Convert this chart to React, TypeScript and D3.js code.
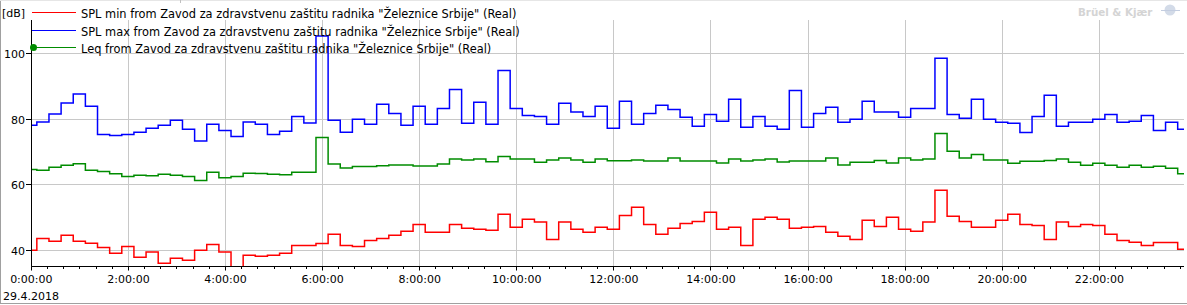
import React from "react";
import * as d3 from "d3";

// ---- data (15-minute intervals, 29.4.2018) ----
const dateLabel = "29.4.2018";
const unitLabel = "[dB]";
const seriesNames = [
  'SPL min from Zavod za zdravstvenu zaštitu radnika "Železnice Srbije" (Real)',
  'SPL max from Zavod za zdravstvenu zaštitu radnika "Železnice Srbije" (Real)',
  'Leq from Zavod za zdravstvenu zaštitu radnika "Železnice Srbije" (Real)',
];
const yTickValues = [40, 60, 80, 100];
const firstStepMinute = 6.8; // first interval boundary after 0:00:00
const stepMinutes = 15;
const endMinute = 23 * 60 + 44.6;

const splMin = [
  40.0, 43.6, 42.8, 44.6, 42.8, 42.2, 40.9, 39.1, 41.2, 37.9, 39.5, 36.1, 37.6, 37.0, 40.0, 41.8, 39.5, 34.0, 38.5, 38.2, 38.5, 39.1, 41.5,
  41.5, 42.1, 44.9, 41.5, 41.2, 43.0, 43.6, 44.6, 45.8, 47.9, 45.5, 45.5, 47.9, 46.7, 46.4, 46.1, 51.0, 47.0, 49.5, 48.6, 43.3, 48.6, 46.4, 45.5, 47.0,
  46.4, 50.6, 53.1, 47.9, 44.9, 46.7, 48.2, 48.8, 51.6, 46.4, 47.0, 41.5, 49.5, 50.1, 49.5, 46.7, 47.0, 47.3, 45.5, 44.3, 43.3, 49.2, 47.3, 50.1,
  46.4, 45.8, 48.6, 58.3, 50.4, 48.8, 47.0, 47.0, 49.2, 51.0, 47.9, 47.6, 43.3, 48.6, 47.3, 47.9, 47.6, 44.9, 43.0, 42.5, 41.5, 42.4, 42.4, 40.3,
];
const splMax = [
  78.1, 79.1, 81.5, 84.9, 87.6, 83.9, 75.3, 75.0, 75.3, 76.0, 77.2, 78.1, 79.6, 76.9, 73.3, 78.4, 76.5, 74.7, 79.1, 78.4, 75.3, 76.3, 80.8,
  78.8, 105.3, 79.6, 76.0, 79.9, 78.4, 84.5, 81.7, 78.1, 83.9, 78.4, 83.2, 89.0, 78.7, 85.1, 78.4, 94.8, 83.2, 81.1, 80.8, 78.4, 84.8, 82.1, 80.8, 83.9,
  77.2, 85.4, 78.4, 81.7, 84.2, 82.9, 80.5, 77.8, 81.4, 79.3, 86.0, 77.5, 80.8, 77.8, 76.9, 88.7, 77.5, 81.7, 83.6, 79.0, 79.9, 85.4, 82.1, 82.1,
  80.5, 83.2, 83.2, 98.5, 81.4, 80.2, 86.0, 79.9, 79.0, 78.7, 75.9, 80.8, 87.2, 77.8, 79.0, 79.0, 79.9, 81.4, 79.0, 79.3, 81.1, 76.5, 79.0, 76.9,
];
const leq = [
  64.6, 64.4, 65.3, 65.9, 66.4, 64.4, 64.0, 63.3, 62.5, 62.9, 62.7, 63.2, 62.9, 62.5, 61.3, 63.8, 62.1, 62.5, 63.5, 63.4, 63.2, 63.0, 63.8,
  63.8, 74.4, 66.3, 65.1, 65.5, 65.5, 65.8, 66.0, 66.0, 65.7, 65.7, 66.3, 67.8, 67.5, 67.8, 67.0, 68.6, 67.8, 67.8, 66.8, 67.5, 68.1, 67.5, 66.8, 67.8,
  67.3, 67.3, 67.5, 67.2, 67.2, 68.1, 67.2, 67.2, 67.2, 66.6, 67.8, 67.2, 67.5, 67.8, 66.9, 67.2, 67.2, 67.2, 68.1, 66.0, 66.8, 66.8, 67.4, 66.6,
  68.1, 67.5, 67.8, 75.6, 70.2, 68.1, 69.2, 67.5, 67.5, 66.5, 67.1, 67.1, 67.4, 67.8, 66.8, 65.9, 66.5, 65.9, 65.3, 65.9, 65.3, 65.6, 65.0, 63.3,
];

const colors = ["#ff0000", "#0000ff", "#008c00"];

const W = 1187;
const H = 305;
const FONT = "'DejaVu Sans', Verdana, sans-serif";

const day = new Date(2018, 3, 29, 0, 0, 0);
const atMinute = (m: number) => new Date(day.getTime() + m * 60000);

function toPoints(values: number[]) {
  const pts = values.map((v, i) => ({
    t: i === 0 ? atMinute(0) : atMinute(firstStepMinute + (i - 1) * stepMinutes),
    v,
  }));
  pts.push({ t: atMinute(endMinute), v: values[values.length - 1] });
  return pts;
}

export default function App() {
  const left = 31.33;
  const right = 1184;
  const top = 20;
  const bottom = 266.67;

  const x = d3.scaleTime().domain([atMinute(0), atMinute(endMinute)]).range([left, right]);
  const y = d3.scaleLinear().domain([35.03, 110.15]).range([bottom, top]);

  const crisp = (v: number) => Math.floor(v) + 0.5;

  const majorTicks = x.ticks(d3.timeHour.every(2) as any);
  const minorTicks = x.ticks(d3.timeMinute.every(20) as any);
  const fmt = d3.timeFormat("%-H:%M:%S");

  const line = d3
    .line<{ t: Date; v: number }>()
    .x((d) => x(d.t))
    .y((d) => y(d.v))
    .curve(d3.curveStepAfter);

  const series = [splMin, splMax, leq];
  const axisX = crisp(left);
  const axisY = crisp(bottom);

  return (
    <svg
      width={W}
      height={H}
      style={{ position: "absolute", left: 0, top: 0, background: "#fff" }}
      fontFamily={FONT}
    >
      <defs>
        <clipPath id="plot">
          <rect x={axisX} y={top} width={right - axisX} height={axisY - top} />
        </clipPath>
      </defs>
      <rect x={0} y={0} width={W} height={H} fill="#fff" />
      {/* frame */}
      <line x1={0.5} y1={0} x2={0.5} y2={304} stroke="#a0a0a0" />
      <line x1={0} y1={303.5} x2={W} y2={303.5} stroke="#a0a0a0" />
      <line x1={0} y1={0.5} x2={W} y2={0.5} stroke="#e6e6e6" />
      <line x1={180.5} y1={0} x2={180.5} y2={3} stroke="#c0c0c0" />

      {/* grid */}
      {majorTicks
        .filter((t) => t.getTime() > day.getTime())
        .map((t, i) => (
          <line key={"gx" + i} x1={crisp(x(t))} x2={crisp(x(t))} y1={top} y2={axisY} stroke="#c8c8c8" />
        ))}
      {yTickValues.map((v) => (
        <line key={"gy" + v} x1={axisX} x2={right} y1={crisp(y(v))} y2={crisp(y(v))} stroke="#c8c8c8" />
      ))}

      {/* series */}
      <g clipPath="url(#plot)" fill="none" strokeWidth={1.5}>
        {series.map((s, i) => (
          <path key={i} d={line(toPoints(s)) || ""} stroke={colors[i]} />
        ))}
      </g>

      {/* axes */}
      <line x1={axisX} x2={axisX} y1={top} y2={axisY} stroke="#000" />
      <line x1={axisX} x2={right} y1={axisY} y2={axisY} stroke="#000" />
      {minorTicks.map((t, i) => (
        <line key={"mt" + i} x1={crisp(x(t))} x2={crisp(x(t))} y1={axisY} y2={axisY + 2.5} stroke="#000" />
      ))}
      {majorTicks.map((t, i) => (
        <g key={"xt" + i}>
          <line x1={crisp(x(t))} x2={crisp(x(t))} y1={axisY} y2={axisY + 4} stroke="#000" />
          <text x={x(t)} y={283.3} textAnchor="middle" fontSize={11} fill="#000">
            {fmt(t)}
          </text>
        </g>
      ))}
      <text x={3} y={300} fontSize={11} fill="#000">
        {dateLabel}
      </text>
      {yTickValues.map((v) => (
        <g key={"yt" + v}>
          <line x1={26} x2={axisX} y1={crisp(y(v))} y2={crisp(y(v))} stroke="#000" />
          <text x={25} y={crisp(y(v)) + 4.3} textAnchor="end" fontSize={11} fill="#000">
            {v}
          </text>
        </g>
      ))}

      {/* legend */}
      <text x={2} y={16.5} fontSize={11} fill="#000">
        {unitLabel}
      </text>
      {seriesNames.map((name, i) => {
        const ly = [12.5, 30.5, 47.5][i];
        return (
          <g key={"lg" + i}>
            <line x1={32} x2={76} y1={ly} y2={ly} stroke={colors[i]} strokeWidth={1.2} />
            {i === 2 && <circle cx={33.5} cy={ly} r={3.5} fill={colors[i]} />}
            <text x={81} y={ly + 5.3} fontSize={11.4} fill="#000">
              {name}
            </text>
          </g>
        );
      })}

      {/* watermark */}
      <text x={1078} y={16} fontSize={10.3} fontWeight="bold" fill="#d4d4d4">
        Brüel &amp; Kjær
      </text>
      <circle cx={1170} cy={10} r={5.5} fill="#d3dbe8" />
      <line x1={1161} x2={1180} y1={10.5} y2={10.5} stroke="#c3cde0" />
    </svg>
  );
}
